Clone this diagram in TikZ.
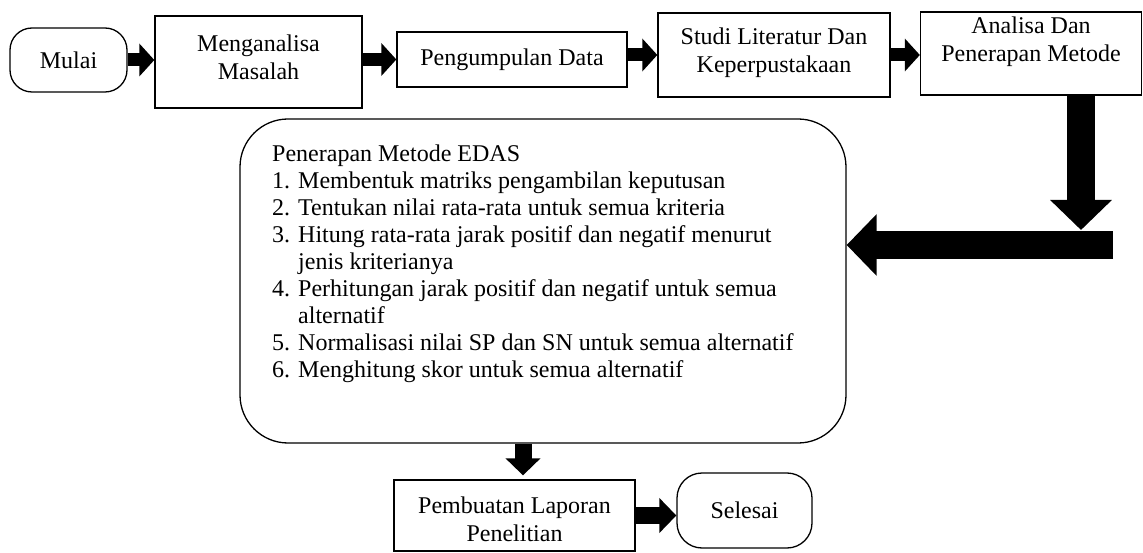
\documentclass[tikz,border=0pt]{standalone}
\usepackage{fontspec}
\setmainfont{Liberation Serif}
\usetikzlibrary{arrows.meta}
\begin{document}
\begin{tikzpicture}[x=1pt,y=-1pt,
  txt/.style={font=\fontsize{24}{27.6}\selectfont},
  box/.style={draw, line width=1.3pt, align=center, txt, inner sep=0pt},
  term/.style={box, rounded corners=22pt},
  fat/.style={line width=13pt, -{Triangle[length=15pt,width=32pt]}},
  fatv/.style={line width=17pt, -{Triangle[length=17pt,width=34pt]}},
  huge/.style={line width=28pt, -{Triangle[length=30pt,width=60pt]}}]
\useasboundingbox[fill=white] (0,0) rectangle (1143,553);

\node[term, minimum width=117pt, minimum height=64pt] (mulai) at (68.5,60) {Mulai};
\node[box, minimum width=207pt, minimum height=92pt] (menganalisa) at (258.5,62) {};
\node[txt, align=center, inner sep=0pt] (mengtxt) at (258.5,57) {Menganalisa\\Masalah};
\node[box, minimum width=230pt, minimum height=55pt] (pengumpulan) at (512,59.5) {Pengumpulan Data};
\node[box, minimum width=232pt, minimum height=84pt] (studi) at (774,55) {};
\node[txt, align=center, inner sep=0pt] (studitxt) at (774,53) {Studi Literatur Dan\\Keperpustakaan};
\node[box, minimum width=221pt, minimum height=83pt] (analisa) at (1031,53.5) {};
\node[txt, align=center, inner sep=0pt] (analisatxt) at (1031,42) {Analisa Dan\\Penerapan Metode};

\node[box, rounded corners=48pt, minimum width=606pt, minimum height=324pt] (edas) at (543,281) {};
\node[anchor=north west, align=left, inner sep=0pt, font=\fontsize{24}{26.9}\selectfont] (edastxt) at (272,145) {%
Penerapan Metode EDAS\\
1. Membentuk matriks pengambilan keputusan\\
2. Tentukan nilai rata-rata untuk semua kriteria\\
3. Hitung rata-rata jarak positif dan negatif menurut\\
\hphantom{3. }jenis kriterianya\\
4. Perhitungan jarak positif dan negatif untuk semua\\
\hphantom{4. }alternatif\\
5. Normalisasi nilai SP dan SN untuk semua alternatif\\
6. Menghitung skor untuk semua alternatif};

\node[box, minimum width=241pt, minimum height=71pt] (pembuatan) at (514.5,515.5) {};
\node[txt, align=center, inner sep=0pt] (pembtxt) at (514.5,519) {Pembuatan Laporan\\Penelitian};
\node[term, rounded corners=25pt, minimum width=135pt, minimum height=75pt] (selesai) at (744.5,510.5) {Selesai};

\coordinate (k1) at (1081,230);
\coordinate (k2) at (1113,245);

\draw[fat] (mulai.east) -- (mulai.east -| menganalisa.west);
\draw[fat] (menganalisa.east |- pengumpulan.east) -- (pengumpulan.west);
\draw[fat] (pengumpulan.east |- studi.west) -- (studi.west);
\draw[fat] (studi.east) -- (studi.east -| analisa.west);
\draw[huge] (analisa.south -| k1) -- (k1);
\draw[huge] (k2) -- (edas.east |- k2);
\draw[fatv, shorten >=4pt] ([xshift=8.5pt]pembuatan.north |- edas.south) -- ([xshift=8.5pt]pembuatan.north);
\draw[fatv] (pembuatan.east) -- (pembuatan.east -| selesai.west);
\end{tikzpicture}
\end{document}
